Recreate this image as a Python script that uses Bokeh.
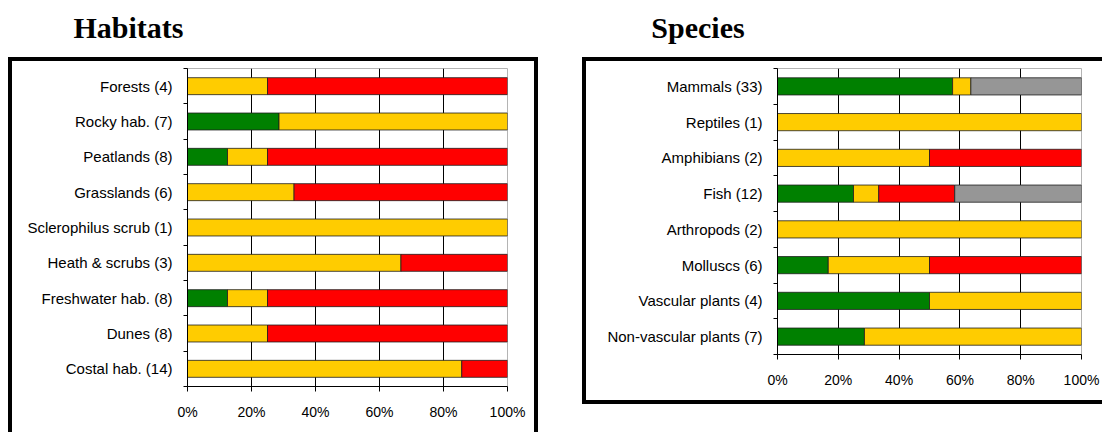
from bokeh.plotting import figure
from bokeh.layouts import row, column
from bokeh.models import (ColumnDataSource, Range1d, FixedTicker, LinearAxis, Grid,
                          PrintfTickFormatter, Spacer)
from bokeh.core.properties import value
from bokeh.embed import file_html
from bokeh.resources import INLINE

# ---------------- data (percent of assessments per conservation status) -------------
panel_titles = ["Habitats", "Species"]

hab_categories = ["Forests (4)", "Rocky hab. (7)", "Peatlands (8)", "Grasslands (6)",
                  "Sclerophilus scrub (1)", "Heath & scrubs (3)", "Freshwater hab. (8)",
                  "Dunes (8)", "Costal hab. (14)"]
hab_green = [0, 28.6, 12.5, 0, 0, 0, 12.5, 0, 0]
hab_yellow = [25.0, 71.4, 12.5, 33.3, 100.0, 66.7, 12.5, 25.0, 85.7]
hab_red = [75.0, 0, 75.0, 66.7, 0, 33.3, 75.0, 75.0, 14.3]
hab_grey = [0, 0, 0, 0, 0, 0, 0, 0, 0]

sp_categories = ["Mammals (33)", "Reptiles (1)", "Amphibians (2)", "Fish (12)",
                 "Arthropods (2)", "Molluscs (6)", "Vascular plants (4)",
                 "Non-vascular plants (7)"]
sp_green = [57.6, 0, 0, 25.0, 0, 16.7, 50.0, 28.6]
sp_yellow = [6.0, 100.0, 50.0, 8.3, 100.0, 33.3, 50.0, 71.4]
sp_red = [0, 0, 50.0, 25.0, 0, 50.0, 0, 0]
sp_grey = [36.4, 0, 0, 41.7, 0, 0, 0, 0]

x_ticks = [0, 20, 40, 60, 80, 100]
status_colors = ["#008000", "#FFCC00", "#FF0000", "#969696"]

FONT = "Liberation Sans"


def make_panel(cats, series, width, height, min_left, min_right):
    n = len(cats)
    p = figure(width=width, height=height, x_range=Range1d(0, 100), y_range=Range1d(0, n),
               output_backend="svg", toolbar_location=None, tools="",
               x_axis_type=None, y_axis_type=None,
               min_border_left=min_left, min_border_right=min_right,
               min_border_top=7, min_border_bottom=46)
    p.background_fill_color = "white"
    p.border_fill_color = "white"
    p.outline_line_color = "#b4b4b4"
    p.outline_line_width = 1

    # x axis
    xa = LinearAxis(ticker=FixedTicker(ticks=x_ticks),
                    formatter=PrintfTickFormatter(format="%d%%"))
    xa.major_tick_out = 5
    xa.major_tick_in = 0
    xa.minor_tick_line_color = None
    xa.axis_line_color = "black"
    xa.major_tick_line_color = "black"
    xa.major_label_text_font = FONT
    xa.major_label_text_font_size = "14px"
    xa.major_label_text_color = "black"
    xa.major_label_standoff = 12
    p.add_layout(xa, "below")

    # y axis: labels at category centres, tick marks at category boundaries
    centers = [n - 0.5 - i for i in range(n)]
    ya = LinearAxis(ticker=FixedTicker(ticks=centers, minor_ticks=list(range(n + 1))))
    ya.major_label_overrides = {c: cat for c, cat in zip(centers, cats)}
    ya.major_tick_line_color = None
    ya.major_tick_out = 0
    ya.major_tick_in = 0
    ya.minor_tick_out = 4
    ya.minor_tick_in = 0
    ya.minor_tick_line_color = "black"
    ya.axis_line_color = "black"
    ya.major_label_text_font = FONT
    ya.major_label_text_font_size = "15px"
    ya.major_label_text_color = "black"
    ya.major_label_standoff = 11
    p.add_layout(ya, "left")

    p.add_layout(Grid(dimension=0, ticker=FixedTicker(ticks=[20, 40, 60, 80]),
                      grid_line_color="black", grid_line_width=1))

    # stacked segments
    ys, lefts, rights, cols = [], [], [], []
    for i in range(n):
        start = 0.0
        for vals, col in zip(series, status_colors):
            v = vals[i]
            if v > 0:
                ys.append(centers[i])
                lefts.append(start)
                rights.append(start + v)
                cols.append(col)
                start += v
    src = ColumnDataSource(dict(y=ys, left=lefts, right=rights, color=cols))
    p.hbar(y="y", left="left", right="right", height=0.48, fill_color="color",
           line_color="#1e1e1e", line_width=0.8, source=src)
    return p


def bar(w, h):
    return Spacer(width=w, height=h, styles={"background-color": "black"})


# title strip (one svg figure holding both panel headings)
t = figure(width=1102, height=57, x_range=Range1d(0, 1102), y_range=Range1d(57, 0),
           output_backend="svg", toolbar_location=None, tools="",
           x_axis_type=None, y_axis_type=None, min_border=0)
t.outline_line_color = None
t.background_fill_color = "white"
t.border_fill_color = "white"
t.text(x=[128, 697.5], y=[26.5, 26.5], text=panel_titles,
       text_font=value("Liberation Serif"), text_font_style="bold",
       text_font_size="30px", text_color="black",
       text_align="center", text_baseline="alphabetic")

p1 = make_panel(hab_categories, [hab_green, hab_yellow, hab_red, hab_grey],
                width=522, height=371, min_left=175, min_right=27)
p2 = make_panel(sp_categories, [sp_green, sp_yellow, sp_red, sp_grey],
                width=516, height=339, min_left=191, min_right=21)

left_panel = column(bar(530, 4), row(bar(4, 371), p1, bar(4, 371)))
right_panel = column(bar(520, 4), row(bar(4, 339), p2), bar(520, 4))

layout = column(t, row(Spacer(width=8, height=10), left_panel,
                       Spacer(width=44, height=10), right_panel))
open("out.html", "w").write(file_html(layout, INLINE))
